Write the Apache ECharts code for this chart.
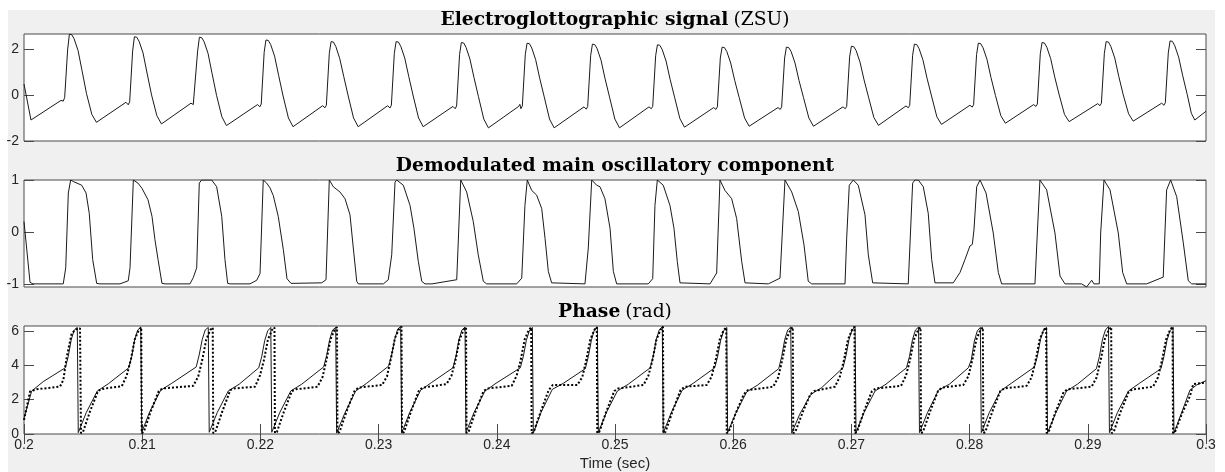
<!DOCTYPE html>
<html>
<head>
<meta charset="utf-8">
<script src="https://cdn.jsdelivr.net/npm/echarts@6/dist/echarts.min.js"></script>
<style>
  html, body { margin: 0; padding: 0; background: #ffffff; }
  #frame { position: absolute; left: 8px; top: 10px; width: 1207px; height: 462px; background: #f0f0f0; }
  #chart { position: absolute; left: 0; top: 0; width: 1225px; height: 472px; }
</style>
</head>
<body>
<div id="frame"></div>
<div id="chart"></div>
<script>
// Time stamps are in milliseconds; axis labels show seconds.
const timeTickLabels = ['0.2', '0.21', '0.22', '0.23', '0.24', '0.25', '0.26', '0.27', '0.28', '0.29', '0.3'];
const eggTicks = [-2, 0, 2];
const demodTicks = [-1, 0, 1];
const phaseTicks = [0, 2, 4, 6];

const panelTitles = [
  ['Electroglottographic signal', '(ZSU)'],
  ['Demodulated main oscillatory component', ''],
  ['Phase', '(rad)']
];

// Electroglottographic signal [ms, ZSU]
const eggSignal = [
  [200.00,0.47],[200.59,-1.09],
  [203.13,-0.24],[203.23,-0.19],[203.32,-0.27],[203.44,-0.12],[203.69,1.95],[203.84,2.63],[204.04,2.61],[204.24,2.43],[204.57,1.93],[204.91,1.05],[205.29,0.05],[205.74,-0.85],[206.13,-1.19],
  [208.63,-0.32],[208.73,-0.25],[208.82,-0.43],[208.94,-0.30],[209.19,1.90],[209.34,2.52],[209.54,2.50],[209.74,2.32],[210.07,1.82],[210.41,0.95],[210.79,0.00],[211.24,-0.90],[211.63,-1.26],
  [214.13,-0.36],[214.23,-0.32],[214.32,-0.42],[214.44,-0.34],[214.69,1.90],[214.84,2.50],[215.04,2.48],[215.24,2.30],[215.57,1.80],[215.91,0.93],[216.29,-0.02],[216.74,-0.95],[217.13,-1.33],
  [219.76,-0.42],[219.86,-0.34],[219.95,-0.52],[220.07,-0.40],[220.32,1.85],[220.47,2.38],[220.67,2.36],[220.87,2.18],[221.20,1.68],[221.54,0.85],[221.92,-0.05],[222.37,-1.00],[222.76,-1.38],
  [225.27,-0.47],[225.37,-0.40],[225.46,-0.56],[225.58,-0.45],[225.83,1.80],[225.98,2.31],[226.18,2.29],[226.38,2.10],[226.71,1.58],[227.05,0.80],[227.43,-0.05],[227.88,-1.00],[228.27,-1.38],
  [230.77,-0.47],[230.87,-0.39],[230.96,-0.57],[231.08,-0.45],[231.33,1.80],[231.48,2.31],[231.68,2.29],[231.88,2.10],[232.21,1.60],[232.55,0.80],[232.93,-0.05],[233.38,-1.00],[233.77,-1.38],
  [236.29,-0.50],[236.39,-0.42],[236.48,-0.60],[236.60,-0.48],[236.85,1.75],[237.00,2.27],[237.20,2.25],[237.40,2.06],[237.73,1.55],[238.07,0.75],[238.45,-0.08],[238.90,-1.05],[239.29,-1.43],
  [241.85,-0.50],[241.95,-0.41],[242.04,-0.60],[242.16,-0.48],[242.41,1.75],[242.56,2.24],[242.76,2.22],[242.96,2.03],[243.29,1.52],[243.63,0.72],[244.01,-0.08],[244.46,-1.05],[244.85,-1.43],
  [247.38,-0.52],[247.48,-0.44],[247.57,-0.62],[247.69,-0.50],[247.94,1.70],[248.09,2.20],[248.29,2.18],[248.49,2.00],[248.82,1.50],[249.16,0.70],[249.54,-0.10],[249.99,-1.05],[250.38,-1.43],
  [252.88,-0.52],[252.98,-0.45],[253.07,-0.60],[253.19,-0.50],[253.44,1.70],[253.59,2.17],[253.79,2.15],[253.99,1.97],[254.32,1.47],[254.66,0.68],[255.04,-0.10],[255.49,-1.03],[255.88,-1.40],
  [258.35,-0.55],[258.45,-0.47],[258.54,-0.63],[258.66,-0.52],[258.91,1.60],[259.06,2.07],[259.26,2.05],[259.46,1.88],[259.79,1.38],[260.13,0.62],[260.51,-0.12],[260.96,-1.00],[261.35,-1.36],
  [263.79,-0.55],[263.89,-0.47],[263.98,-0.63],[264.10,-0.52],[264.35,1.60],[264.50,2.07],[264.70,2.05],[264.90,1.88],[265.23,1.38],[265.57,0.62],[265.95,-0.12],[266.40,-1.00],[266.79,-1.36],
  [269.29,-0.52],[269.39,-0.45],[269.48,-0.60],[269.60,-0.50],[269.85,1.65],[270.00,2.11],[270.20,2.09],[270.40,1.92],[270.73,1.42],[271.07,0.65],[271.45,-0.10],[271.90,-0.98],[272.29,-1.32],
  [274.62,-0.48],[274.72,-0.40],[274.81,-0.56],[274.93,-0.46],[275.18,1.72],[275.33,2.20],[275.53,2.18],[275.73,2.00],[276.06,1.50],[276.40,0.72],[276.78,-0.05],[277.23,-0.95],[277.62,-1.28],
  [280.03,-0.45],[280.13,-0.38],[280.22,-0.53],[280.34,-0.43],[280.59,1.75],[280.74,2.24],[280.94,2.22],[281.14,2.04],[281.47,1.54],[281.81,0.75],[282.19,-0.03],[282.64,-0.90],[283.03,-1.23],
  [285.42,-0.42],[285.52,-0.34],[285.61,-0.50],[285.73,-0.40],[285.98,1.78],[286.13,2.27],[286.33,2.25],[286.53,2.07],[286.86,1.57],[287.20,0.78],[287.58,0.00],[288.03,-0.85],[288.42,-1.16],
  [290.84,-0.38],[290.94,-0.30],[291.03,-0.47],[291.15,-0.36],[291.40,1.80],[291.55,2.31],[291.75,2.29],[291.95,2.10],[292.28,1.60],[292.62,0.80],[293.00,0.00],[293.45,-0.82],[293.84,-1.14],
  [296.25,-0.36],[296.35,-0.29],[296.44,-0.45],[296.56,-0.34],[296.81,1.82],[296.96,2.34],[297.16,2.32],[297.36,2.13],[297.69,1.63],[298.03,0.83],[298.41,0.02],[298.76,-0.80],[299.05,-1.09],
  [300.00,-0.71]
];

// Demodulated main oscillatory component [ms, unitless]
const demodComponent = [
  [200.00,0.20],[200.51,-0.97],[200.76,-1.00],[203.32,-1.00],[203.53,-0.69],[203.75,0.75],[203.95,1.00],[204.17,0.97],[204.88,0.90],[205.25,0.75],[205.52,0.36],[205.81,-0.53],[206.15,-0.99],[206.43,-1.00],
  [208.12,-1.00],[208.82,-0.94],[208.97,-0.69],[209.25,1.00],[209.64,0.94],[209.98,0.84],[210.49,0.62],[210.83,0.30],[211.08,-0.15],[211.34,-0.53],[211.67,-0.99],[211.93,-1.00],
  [214.04,-1.00],[214.32,-0.88],[214.61,-0.69],[214.83,0.94],[215.03,1.00],[215.88,1.00],[216.30,0.87],[216.73,0.30],[217.00,-0.53],[217.23,-0.99],[217.43,-1.00],
  [219.12,-1.00],[219.69,-0.93],[219.97,-0.80],[220.24,1.00],[220.53,0.94],[220.81,0.85],[221.09,0.70],[221.51,0.30],[221.94,-0.34],[222.25,-0.90],[222.59,-0.99],
  [225.19,-0.98],[225.55,-0.92],[225.83,1.00],[226.17,0.87],[226.73,0.77],[227.16,0.64],[227.58,0.33],[227.86,-0.31],[228.15,-0.95],[228.28,-1.00],
  [230.40,-1.00],[230.82,-0.92],[231.11,-0.44],[231.39,0.96],[231.53,1.00],[232.09,0.90],[232.66,0.51],[232.99,0.07],[233.36,-0.57],[233.65,-0.95],[233.92,-1.00],
  [234.52,-1.00],[236.61,-0.92],[236.95,1.00],[237.45,0.77],[238.01,0.20],[238.43,-0.44],[238.86,-0.95],[239.14,-1.00],
  [241.68,-1.00],[242.11,-0.89],[242.38,0.51],[242.58,1.00],[242.95,0.80],[243.37,0.71],[243.80,0.45],[244.08,-0.12],[244.36,-0.76],[244.64,-0.98],
  [247.46,-1.00],[247.74,-0.31],[248.03,1.00],[248.45,0.90],[248.73,0.87],[249.15,0.64],[249.58,0.07],[249.86,-0.76],[250.14,-1.00],
  [252.82,-1.00],[253.19,-0.90],[253.38,0.51],[253.58,1.00],[254.08,0.90],[254.65,0.51],[254.99,0.07],[255.27,-0.57],[255.50,-0.98],
  [258.04,-1.00],[258.60,-0.79],[258.88,1.00],[259.30,0.80],[259.87,0.64],[260.29,0.26],[260.72,-0.57],[261.00,-0.98],
  [262.97,-1.00],[263.96,-0.89],[264.38,1.00],[264.95,0.77],[265.51,0.39],[265.99,-0.25],[266.35,-0.95],[266.64,-1.00],
  [269.46,-1.00],[269.60,-0.12],[269.82,0.90],[270.16,1.00],[270.58,0.90],[271.15,0.33],[271.43,-0.44],[271.80,-0.98],
  [274.81,-1.00],[275.18,0.94],[275.38,1.00],[275.66,1.00],[276.08,0.87],[276.50,0.36],[276.79,-0.53],[277.07,-0.98],
  [278.62,-0.98],[279.19,-0.78],[279.61,-0.53],[280.03,-0.27],[280.23,-0.24],[280.37,0.04],[280.60,0.87],[280.88,1.00],[281.39,0.75],[282.00,-0.02],[282.43,-0.78],[282.71,-1.00],
  [285.53,-1.00],[285.73,-0.02],[285.95,1.00],[286.52,0.81],[287.22,-0.02],[287.65,-0.85],[288.07,-1.00],
  [289.48,-1.00],[289.90,-1.06],[290.33,-0.93],[290.52,-1.00],[290.97,-1.00],[291.09,-0.02],[291.37,1.00],[291.88,0.81],[292.58,-0.02],[292.95,-0.78],[293.29,-1.00],
  [294.98,-1.00],[296.38,-0.87],[296.67,0.81],[297.01,1.00],[297.52,0.68],[298.08,-0.21],[298.50,-0.94],[298.79,-1.00],[300.00,-1.00]
];

// Instantaneous phase, solid trace [ms, rad]
const phaseSolid = [
  [200.00,0.91],[200.65,2.50],[201.63,3.05],[203.49,3.85],[203.74,4.50],[204.00,5.50],[204.25,6.05],[204.51,6.20],
  [204.59,0.08],[205.27,1.25],[206.20,2.50],[207.13,2.92],[208.86,3.85],[209.11,4.50],[209.37,5.50],[209.62,6.05],[209.88,6.22],
  [209.96,0.10],[210.64,1.30],[211.57,2.55],[212.50,2.95],[214.57,3.90],[214.82,4.60],[215.08,5.50],[215.33,6.05],[215.59,6.20],
  [215.67,0.10],[216.35,1.25],[217.28,2.50],[218.21,2.90],[219.86,3.85],[220.11,4.50],[220.37,5.45],[220.62,6.00],[220.88,6.20],
  [220.96,0.10],[221.64,1.25],[222.57,2.50],[223.50,2.90],[225.35,3.90],[225.60,4.55],[225.86,5.50],[226.11,6.05],[226.37,6.20],
  [226.45,0.05],[227.13,1.20],[228.06,2.50],[228.99,2.95],[230.85,3.95],[231.10,4.60],[231.36,5.50],[231.61,6.10],[231.87,6.25],
  [231.95,0.05],[232.63,1.25],[233.56,2.55],[234.49,3.00],[236.29,3.85],[236.54,4.50],[236.80,5.50],[237.05,6.05],[237.31,6.22],
  [237.39,0.08],[238.07,1.25],[239.00,2.50],[239.93,2.95],[241.99,3.85],[242.24,4.50],[242.50,5.45],[242.75,6.00],[243.01,6.20],
  [243.09,0.05],[243.77,1.30],[244.70,2.60],[245.63,2.95],[247.49,3.80],[247.74,4.50],[248.00,5.45],[248.25,6.05],[248.51,6.22],
  [248.59,0.08],[249.27,1.25],[250.20,2.50],[251.13,2.90],[252.98,3.85],[253.23,4.50],[253.49,5.50],[253.74,6.05],[254.00,6.25],
  [254.08,0.05],[254.76,1.25],[255.69,2.55],[256.62,2.95],[258.43,3.85],[258.68,4.50],[258.94,5.45],[259.19,6.00],[259.45,6.20],
  [259.53,0.08],[260.21,1.20],[261.14,2.45],[262.07,2.85],[263.85,3.80],[264.10,4.50],[264.36,5.50],[264.61,6.05],[264.87,6.22],
  [264.95,0.05],[265.63,1.15],[266.56,2.30],[267.49,2.70],[269.29,3.85],[269.54,4.55],[269.80,5.50],[270.05,6.05],[270.31,6.25],
  [270.39,0.08],[271.07,1.25],[272.00,2.50],[272.93,2.90],[274.66,3.85],[274.91,4.50],[275.17,5.50],[275.42,6.05],[275.68,6.22],
  [275.76,0.08],[276.44,1.25],[277.37,2.55],[278.30,2.90],[279.89,3.85],[280.14,4.30],[280.40,5.40],[280.65,6.00],[280.91,6.20],
  [280.99,0.08],[281.67,1.25],[282.60,2.50],[283.53,2.95],[285.49,3.90],[285.74,4.55],[286.00,5.50],[286.25,6.05],[286.51,6.20],
  [286.59,0.05],[287.27,1.20],[288.20,2.50],[289.13,2.90],[290.73,3.80],[290.98,4.50],[291.24,5.50],[291.49,6.05],[291.75,6.25],
  [291.83,0.08],[292.51,1.25],[293.44,2.50],[294.37,2.95],[296.19,3.80],[296.44,4.50],[296.70,5.45],[296.95,6.00],[297.21,6.20],
  [297.29,0.05],[297.97,1.30],[298.64,2.55],[299.20,2.85],[300.00,3.10]
];

// Instantaneous phase, dotted trace [ms, rad]
const phaseDotted = [
  [200.00,0.81],[200.51,2.47],[201.07,2.60],[203.05,2.76],[203.33,3.15],[203.62,4.50],[204.04,5.87],[204.46,6.10],[204.74,6.15],
  [204.82,0.05],[204.99,0.12],[205.58,1.30],[206.26,2.50],[206.60,2.62],[208.27,2.78],[208.69,3.40],[209.03,4.30],[209.37,5.50],[209.71,6.05],[209.92,6.20],
  [209.96,0.05],[210.13,0.12],[210.72,1.30],[211.40,2.50],[211.74,2.65],[214.32,2.80],[214.74,3.35],[215.08,4.30],[215.42,5.50],[215.76,6.05],[215.97,6.20],
  [216.01,0.05],[216.18,0.12],[216.77,1.30],[217.45,2.55],[217.79,2.65],[219.54,2.75],[219.96,3.40],[220.30,4.30],[220.64,5.50],[220.98,6.05],[221.19,6.20],
  [221.23,0.05],[221.40,0.12],[221.99,1.30],[222.67,2.50],[223.01,2.60],[224.83,2.75],[225.25,3.30],[225.59,4.30],[225.93,5.50],[226.27,6.05],[226.48,6.22],
  [226.52,0.05],[226.69,0.12],[227.28,1.30],[227.96,2.50],[228.30,2.70],[230.29,2.85],[230.71,3.35],[231.05,4.40],[231.39,5.60],[231.73,6.10],[231.94,6.25],
  [231.98,0.05],[232.15,0.12],[232.74,1.30],[233.42,2.55],[233.76,2.70],[235.75,2.90],[236.17,3.40],[236.51,4.30],[236.85,5.50],[237.19,6.05],[237.40,6.20],
  [237.44,0.05],[237.61,0.12],[238.20,1.30],[238.88,2.50],[239.22,2.65],[241.26,2.80],[241.68,3.40],[242.02,4.30],[242.36,5.50],[242.70,6.05],[242.91,6.20],
  [242.95,0.05],[243.12,0.12],[243.71,1.30],[244.39,2.55],[244.73,2.85],[246.81,2.85],[247.23,3.30],[247.57,4.30],[247.91,5.50],[248.25,6.05],[248.46,6.22],
  [248.50,0.05],[248.67,0.12],[249.26,1.30],[249.94,2.50],[250.28,2.65],[252.41,2.85],[252.83,3.40],[253.17,4.30],[253.51,5.50],[253.85,6.05],[254.06,6.25],
  [254.10,0.05],[254.27,0.12],[254.86,1.30],[255.54,2.55],[255.88,2.75],[257.76,2.85],[258.18,3.35],[258.52,4.30],[258.86,5.50],[259.20,6.05],[259.41,6.20],
  [259.45,0.05],[259.62,0.12],[260.21,1.20],[260.89,2.30],[261.23,2.55],[263.39,2.75],[263.81,3.30],[264.15,4.30],[264.49,5.50],[264.83,6.05],[265.04,6.22],
  [265.08,0.05],[265.25,0.12],[265.84,1.20],[266.52,2.30],[266.86,2.50],[268.61,2.75],[269.03,3.35],[269.37,4.30],[269.71,5.50],[270.05,6.05],[270.26,6.25],
  [270.30,0.05],[270.47,0.12],[271.06,1.30],[271.74,2.50],[272.08,2.65],[274.20,2.80],[274.62,3.40],[274.96,4.30],[275.30,5.50],[275.64,6.05],[275.85,6.20],
  [275.89,0.05],[276.06,0.12],[276.65,1.30],[277.33,2.50],[277.67,2.70],[279.47,2.85],[279.89,3.35],[280.23,4.30],[280.57,5.50],[280.91,6.05],[281.12,6.20],
  [281.16,0.05],[281.33,0.12],[281.92,1.30],[282.60,2.50],[282.94,2.65],[284.83,2.80],[285.25,3.30],[285.59,4.30],[285.93,5.50],[286.27,6.05],[286.48,6.20],
  [286.52,0.05],[286.69,0.12],[287.28,1.30],[287.96,2.45],[288.30,2.60],[290.33,2.75],[290.75,3.30],[291.09,4.30],[291.43,5.50],[291.77,6.05],[291.98,6.22],
  [292.02,0.05],[292.19,0.12],[292.78,1.30],[293.46,2.45],[293.80,2.60],[295.52,2.75],[295.94,3.30],[296.28,4.30],[296.62,5.50],[296.96,6.05],[297.17,6.25],
  [297.21,0.05],[297.38,0.12],[297.97,1.20],[298.64,2.20],[298.92,2.90],[300.00,3.00]
];

const axisColor = '#4a4a4a';
const labelFont = { fontFamily: 'Liberation Sans, Arial, sans-serif', fontSize: 14, color: '#262626' };
const nameFont = { fontFamily: 'Liberation Sans, Arial, sans-serif', fontSize: 15, color: '#262626' };

function makeTitle(parts, top) {
  return {
    text: parts[1] ? '{b|' + parts[0] + '} {n|' + parts[1] + '}' : '{b|' + parts[0] + '}',
    left: 615,
    top: top,
    textAlign: 'center',
    padding: 0,
    textStyle: {
      rich: {
        b: { fontFamily: 'DejaVu Serif', fontWeight: 'bold', fontSize: 18.7, color: '#000', lineHeight: 22 },
        n: { fontFamily: 'DejaVu Serif', fontWeight: 'normal', fontSize: 18.7, color: '#000', lineHeight: 22 }
      }
    }
  };
}

function hiddenX(gridIndex) {
  return { gridIndex: gridIndex, type: 'value', min: 200, max: 300, show: false };
}

function yPair(gridIndex, min, max, ticks) {
  const base = {
    gridIndex: gridIndex, type: 'value', min: min, max: max,
    axisLine: { show: false },
    splitLine: { show: false },
    axisTick: { show: true, inside: true, length: 10, customValues: ticks, lineStyle: { color: axisColor, width: 1 } }
  };
  return [
    Object.assign({}, base, { position: 'left', axisLabel: Object.assign({ show: true, margin: 5, customValues: ticks }, labelFont) }),
    Object.assign({}, base, { position: 'right', axisLabel: { show: false } })
  ];
}

const grids = [
  { left: 24, right: 19, top: 34, height: 107 },
  { left: 24, right: 19, top: 180, height: 107 },
  { left: 24, right: 19, top: 326, height: 108 }
].map(g => Object.assign(g, { show: true, backgroundColor: '#ffffff', borderColor: axisColor, borderWidth: 1, containLabel: false }));

const timeTick = { show: true, inside: true, length: 10, lineStyle: { color: axisColor, width: 1 } };

const option = {
  animation: false,
  backgroundColor: 'transparent',
  title: [makeTitle(panelTitles[0], 9), makeTitle(panelTitles[1], 155), makeTitle(panelTitles[2], 301)],
  grid: grids,
  xAxis: [
    hiddenX(0),
    hiddenX(1),
    {
      gridIndex: 2, type: 'value', min: 200, max: 300, interval: 10, position: 'bottom',
      axisLine: { show: false }, splitLine: { show: false }, axisTick: timeTick,
      axisLabel: Object.assign({ margin: 4, formatter: v => timeTickLabels[Math.round((v - 200) / 10)] }, labelFont),
      name: 'Time (sec)', nameLocation: 'middle', nameGap: 22,
      nameTextStyle: nameFont
    },
    {
      gridIndex: 2, type: 'value', min: 200, max: 300, interval: 10, position: 'top',
      axisLine: { show: false }, splitLine: { show: false }, axisTick: timeTick,
      axisLabel: { show: false }
    }
  ],
  yAxis: [].concat(
    yPair(0, -2, 2.64, eggTicks),
    yPair(1, -1.06, 1, demodTicks),
    yPair(2, 0, 6.283, phaseTicks)
  ),
  series: [
    { type: 'line', xAxisIndex: 0, yAxisIndex: 0, data: eggSignal, showSymbol: false, lineStyle: { color: '#1a1a1a', width: 1 } },
    { type: 'line', xAxisIndex: 1, yAxisIndex: 2, data: demodComponent, showSymbol: false, lineStyle: { color: '#1a1a1a', width: 1 } },
    { type: 'line', xAxisIndex: 2, yAxisIndex: 4, data: phaseSolid, showSymbol: false, lineStyle: { color: '#1a1a1a', width: 1 } },
    { type: 'line', xAxisIndex: 2, yAxisIndex: 4, data: phaseDotted, showSymbol: false, lineStyle: { color: '#000000', width: 2, type: [2, 2] } }
  ]
};

const chart = echarts.init(document.getElementById('chart'), null, { renderer: 'canvas' });
chart.setOption(option);
</script>
</body>
</html>
